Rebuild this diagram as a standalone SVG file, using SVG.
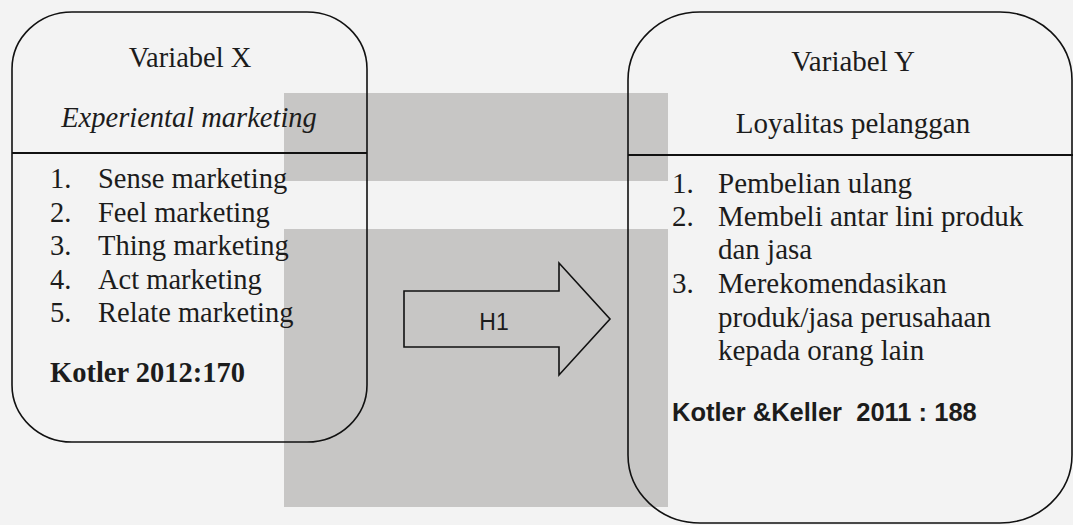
<svg xmlns="http://www.w3.org/2000/svg" width="1073" height="525" viewBox="0 0 1073 525">
<style>
.bg{fill:#f3f3f3}
.wm{fill:#c7c6c5}
.box{fill:none;stroke:#111;stroke-width:1.6}
.div{stroke:#111;stroke-width:1.8}
.t{font-family:"Liberation Serif","Times New Roman",serif;font-size:28.5px;fill:#1c1c1c}
.ty{font-family:"Liberation Serif","Times New Roman",serif;font-size:29px;fill:#1c1c1c}
.c{text-anchor:middle}
.i{font-style:italic}
.b{font-weight:bold}
.s{font-family:"Liberation Sans",Arial,sans-serif;fill:#1c1c1c}
</style>
<rect class="bg" x="0" y="0" width="1073" height="525"/>
<g id="watermark">
<rect class="wm" x="284" y="93" width="384" height="88"/>
<rect class="wm" x="284" y="229" width="384" height="278"/>
</g>
<g id="node-x">
<rect class="box" x="12" y="12" width="355" height="430" rx="60" ry="57"/>
<line class="div" x1="12" y1="153" x2="367" y2="153"/>
<text class="t c" x="190" y="67">Variabel X</text>
<text class="t c i" x="189" y="127">Experiental marketing</text>
<text class="t" x="50" y="188">1.</text><text class="t" x="98" y="188">Sense marketing</text>
<text class="t" x="50" y="221.5">2.</text><text class="t" x="98" y="221.5">Feel marketing</text>
<text class="t" x="50" y="255">3.</text><text class="t" x="98" y="255">Thing marketing</text>
<text class="t" x="50" y="288.5">4.</text><text class="t" x="98" y="288.5">Act marketing</text>
<text class="t" x="50" y="322">5.</text><text class="t" x="98" y="322">Relate marketing</text>
<text class="t b" x="50" y="382">Kotler 2012:170</text>
</g>
<g id="node-y">
<rect class="box" x="628" y="12" width="444" height="511" rx="72" ry="68"/>
<line class="div" x1="628" y1="155" x2="1073" y2="155"/>
<text class="ty c" x="853" y="71">Variabel Y</text>
<text class="ty c" x="853" y="133">Loyalitas pelanggan</text>
<text class="ty" x="672" y="193">1.</text><text class="ty" x="718" y="193">Pembelian ulang</text>
<text class="ty" x="672" y="226">2.</text><text class="ty" x="718" y="226">Membeli antar lini produk</text>
<text class="ty" x="718" y="259">dan jasa</text>
<text class="ty" x="672" y="293">3.</text><text class="ty" x="718" y="293">Merekomendasikan</text>
<text class="ty" x="718" y="327">produk/jasa perusahaan</text>
<text class="ty" x="718" y="360">kepada orang lain</text>
<text class="s b" x="672" y="421" font-size="25.5" xml:space="preserve">Kotler &amp;Keller  2011 : 188</text>
</g>
<g id="connectors">
<polygon points="404,291 559,291 559,263 610,319 559,375 559,347 404,347" fill="none" stroke="#111" stroke-width="1.6"/>
<text class="s c" x="494" y="330" font-size="23">H1</text>
</g>
</svg>
